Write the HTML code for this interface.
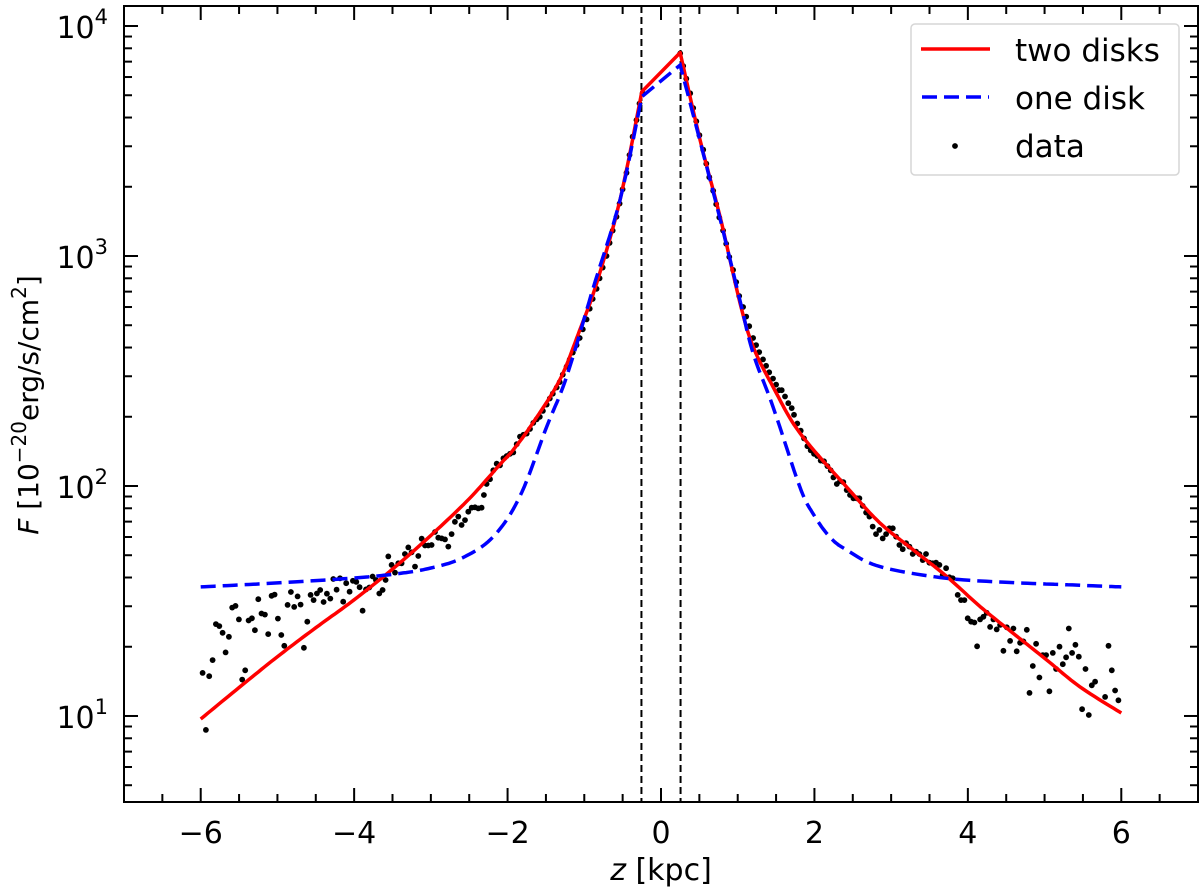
<!DOCTYPE html>
<html><head><meta charset="utf-8"><style>
html,body{margin:0;padding:0;background:#fff;}
svg{display:block;font-family:"DejaVu Sans","Liberation Sans",sans-serif;}
</style></head><body>
<svg id="chart" width="1200" height="890" viewBox="0 0 1200 890"></svg>
<script>
// ---- data ----
const redZ = [-6,-5.5,-5,-4.5,-4,-3.5,-3,-2.5,-2.1,-1.93,-1.67,-1.32,-1.06,-0.84,-0.535,-0.25,0.25,0.51,0.77,1.03,1.2,1.46,1.81,2.42,2.855,3.29,3.725,4.16,4.59,5.03,5.46,6];
const redF = [9.7,13.3,18.1,24.2,32,43.5,61,88,124,143,188,289,476,760,1750,5180,7660,3190,1480,625,404,270,170,99,69,52.7,40.4,29.9,22.9,17.5,13.4,10.3];
const blueZ = [-6,-5,-4,-3.4,-3,-2.6,-2.19,-1.84,-1.49,-1.23,-0.88,-0.535,-0.25,0.25,0.51,0.77,1.03,1.2,1.46,1.81,1.98,2.2,2.42,2.855,3.72,4.59,5.3,6];
const blueF = [36.4,37.9,39.8,41.7,44,48.5,60,90,181,299,733,1750,4930,6770,3150,1450,640,378,221,99,76,60,52.7,44.6,39.7,38,37.2,36.4];
const dataZ = [-5.976,-5.932,-5.889,-5.845,-5.802,-5.758,-5.715,-5.676,-5.633,-5.589,-5.546,-5.502,-5.459,-5.42,-5.376,-5.333,-5.294,-5.25,-5.207,-5.163,-5.12,-5.076,-5.037,-4.994,-4.95,-4.911,-4.868,-4.824,-4.781,-4.737,-4.698,-4.655,-4.611,-4.568,-4.529,-4.485,-4.442,-4.398,-4.355,-4.311,-4.272,-4.229,-4.185,-4.142,-4.103,-4.059,-4.016,-3.972,-3.929,-3.89,-3.846,-3.803,-3.759,-3.716,-3.672,-3.629,-3.59,
-3.555,-3.512,-3.468,-3.425,-3.381,-3.338,-3.294,-3.251,-3.207,-3.164,-3.12,-3.077,-3.033,-2.99,-2.946,-2.903,-2.859,-2.816,-2.773,-2.729,-2.686,-2.642,-2.599,-2.555,-2.512,-2.468,-2.425,-2.381,-2.338,-2.308,-2.273,-2.229,-2.186,-2.142,-2.099,-2.055,-2.012,-1.968,-1.925,-1.881,-1.838,-1.794,-1.751,-1.707,-1.664,-1.62,
-1.58,-1.54,-1.49,-1.45,-1.41,-1.36,-1.32,-1.28,-1.23,-1.19,-1.15,-1.10,-1.06,-1.02,-0.97,-0.93,-0.89,-0.84,-0.80,-0.76,-0.71,-0.67,-0.63,-0.58,-0.54,-0.50,-0.45,-0.41,-0.37,-0.32,-0.28,-0.24,
0.25,0.29,0.33,0.38,0.42,0.46,0.50,0.55,0.59,0.63,0.68,0.72,0.76,0.81,0.85,0.89,0.94,0.98,1.02,1.07,1.11,1.15,1.20,1.24,1.28,1.33,1.37,1.41,1.46,1.50,1.54,
1.573,1.617,1.66,1.704,1.734,1.777,1.821,1.864,1.908,1.951,1.995,2.038,2.082,2.125,2.169,2.212,2.247,2.291,2.334,2.377,2.421,2.464,2.508,2.551,2.586,2.629,2.673,2.716,2.76,2.803,2.847,2.89,2.934,2.977,3.021,3.064,3.108,3.151,3.195,3.238,3.281,3.325,3.368,3.412,3.455,3.499,3.542,3.585,3.629,3.672,3.716,3.759,3.803,3.868,3.911,3.955,3.998,4.042,4.085,4.12,4.159,4.203,4.246,4.29,4.333,4.376,4.42,4.463,4.507,4.55,4.594,4.637,4.681,4.724,4.768,4.803,4.846,4.89,4.933,4.977,5.02,5.063,5.107,5.15,5.194,5.237,5.281,5.316,5.359,5.402,5.446,5.489,5.533,5.576,5.615,5.659,5.789,5.833,5.876,5.92,5.963];
const dataF = [15.4,8.7,14.9,17.5,25.1,24.6,23,18.9,22.1,29.6,30.1,26.3,14.4,15.8,26,26.6,23.6,32.2,27.9,27.6,22.7,33.3,33.7,26.5,22.5,20.2,30.4,34.6,29.8,33.1,30.5,19.8,25.7,33.6,31.9,34.1,35.3,31.3,34,32.4,39.4,35.4,39.7,31.4,37.8,34.7,38.7,38.3,36.3,28.7,35.5,36.2,40.4,39,34.1,35.3,39,
49.4,45.4,42,46.1,46.1,50.6,54.1,51.5,44.6,49.6,59,55.1,55.1,55.4,63.1,59.6,59.2,58.6,54.5,61.8,69.9,73.6,67.7,71.1,77.3,80.5,80.8,79.9,80.5,91.4,102,107,117,125,123,132,135,138,140,152,164,167,169,177,188,195,
200,212,226,240,252,268,283,305,330,355,380,410,440,480,530,590,650,720,800,890,1000,1140,1290,1480,1690,1950,2300,2750,3300,3900,4600,5100,
7600,6700,5900,5100,4400,3850,3350,2900,2520,2200,1920,1680,1470,1290,1130,990,870,770,670,600,545,495,440,410,382,355,333,312,293,276,261,
261,245,229,218,204,187,174,161,149,143,138,135,129,128,122,117,109,102,105,104,96,91.4,88.4,88.4,88.4,81.9,76.6,73.6,66.6,61.8,64.4,59.2,61.8,65.5,65.5,60.2,55.4,53.1,56.4,54.5,50.6,51.8,50.6,47.6,50.6,46.4,46.1,46.4,45.4,41,43.9,40.1,39.7,33.6,31.9,31.9,26.6,25.7,25.5,20.1,26.3,27,28.1,24.4,26.3,23.8,24.9,19.2,24.3,21.2,24,19.1,20.8,21.1,23.7,12.6,16.5,20.6,14.7,18.4,18.4,12.8,18.8,16,20,16.8,18,24,18.8,20.4,18.1,10.7,16,10.1,13.6,14.1,12.1,20.2,15.8,12.9,11.7];
const xTicks = [-6,-4,-2,0,2,4,6];
const xTickLabels = ["\u22126","\u22124","\u22122","0","2","4","6"];
const yDecades = [1,2,3,4];
const vLines = [-0.255,0.255];

// ---- axes ----
const L=124,R=1198,T=6,B=802;
const xMin=-7,xMax=7,yMin=0.626,yMax=4.087;
const X=z=>L+(z-xMin)/(xMax-xMin)*(R-L);
const Y=f=>B-(Math.log10(f)-yMin)/(yMax-yMin)*(B-T);
const NS="http://www.w3.org/2000/svg";
const svg=document.getElementById('chart');
function mk(tag,attrs,parent){const e=document.createElementNS(NS,tag);for(const k in attrs)e.setAttribute(k,attrs[k]);(parent||svg).appendChild(e);return e;}

const defs=mk('defs',{});
const cp=mk('clipPath',{id:'clip'},defs);
mk('rect',{x:L,y:T,width:R-L,height:B-T},cp);
const plot=mk('g',{'clip-path':'url(#clip)'});



vLines.forEach((z,i)=>{
  const l=mk('line',{x1:X(z),x2:X(z),y1:T,y2:B,stroke:'#000','stroke-width':2,'stroke-dasharray':'7,4'},plot);
  
  
});

const dg=mk('g',{},plot);


for(let i=0;i<dataZ.length;i++){
  const c=mk('circle',{cx:X(dataZ[i]).toFixed(1),cy:Y(dataF[i]).toFixed(1),r:2.9,fill:'#000'},dg);
  
  
}
function smoothPath(zs,fs){
  const segs=[];let cur=[];
  for(let i=0;i<zs.length;i++){
    cur.push([zs[i],Math.log10(fs[i])]);
    if(Math.abs(Math.abs(zs[i])-0.25)<1e-6){segs.push(cur);cur=[[zs[i],Math.log10(fs[i])]];}
  }
  segs.push(cur);
  let pts=[];
  segs.forEach(s=>{
    if(s.length<3){s.forEach(p=>pts.push(p));return;}
    for(let i=0;i<s.length-1;i++){
      const p0=s[Math.max(0,i-1)],p1=s[i],p2=s[i+1],p3=s[Math.min(s.length-1,i+2)];
      const n=12;
      for(let k=0;k<n;k++){
        const t=k/n,t2=t*t,t3=t2*t;
        const f=(a,b,c,d)=>0.5*(2*b+(-a+c)*t+(2*a-5*b+4*c-d)*t2+(-a+3*b-3*c+d)*t3);
        pts.push([f(p0[0],p1[0],p2[0],p3[0]),f(p0[1],p1[1],p2[1],p3[1])]);
      }
    }
    pts.push(s[s.length-1]);
  });
  return pts.map((p,i)=>(i?'L':'M')+X(p[0]).toFixed(1)+','+Y(Math.pow(10,p[1])).toFixed(1)).join(' ');
}
const red=mk('path',{d:smoothPath(redZ,redF),fill:'none',stroke:'#ff0000','stroke-width':3.5,'stroke-linejoin':'round'},plot);


const blue=mk('path',{d:smoothPath(blueZ,blueF),fill:'none',stroke:'#0000ff','stroke-width':3.5,'stroke-dasharray':'15,7'},plot);



const fr=mk('rect',{x:L,y:T,width:R-L,height:B-T,fill:'none',stroke:'#000','stroke-width':2});



const xg=mk('g',{stroke:'#000','stroke-width':2});


for(let z=-6.5;z<=6.51;z+=0.5){
  const major=Math.abs(z-Math.round(z/2)*2)<1e-6;
  const len=major?14:8;
  mk('line',{x1:X(z),x2:X(z),y1:B,y2:B-len},xg);
  mk('line',{x1:X(z),x2:X(z),y1:T,y2:T+len},xg);
}
xTicks.forEach((z,i)=>{
  const t=mk('text',{x:X(z),y:843,'text-anchor':'middle','font-size':30,fill:'#000'});
  t.textContent=xTickLabels[i];
  
  
});
const yg=mk('g',{stroke:'#000','stroke-width':2});


for(let d=0;d<=4;d++){
  for(let m=1;m<=9;m++){
    const v=m*Math.pow(10,d);
    const lv=Math.log10(v);
    if(lv<yMin||lv>yMax)continue;
    const len=m===1?14:8;const y=Y(v);
    mk('line',{x1:L,x2:L+len,y1:y,y2:y},yg);
    mk('line',{x1:R,x2:R-len,y1:y,y2:y},yg);
  }
}
yDecades.forEach(d=>{
  const t=mk('text',{x:108,y:Y(Math.pow(10,d))+12,'text-anchor':'end','font-size':30,fill:'#000'});
  t.innerHTML='10<tspan dy="-14" font-size="21">'+d+'</tspan>';
  
  
});
const xt=mk('text',{x:661,y:880,'text-anchor':'middle','font-size':30,fill:'#000'});
xt.innerHTML='<tspan font-style="italic">z</tspan> [kpc]';


const yt=mk('text',{x:0,y:0,'text-anchor':'middle','font-size':28,fill:'#000',transform:'translate(38,405) rotate(-90)'});
yt.innerHTML='<tspan font-style="italic">F</tspan> [10<tspan dy="-12" font-size="20">\u221220</tspan><tspan dy="12">erg/s/cm</tspan><tspan dy="-12" font-size="20">2</tspan><tspan dy="12">]</tspan>';



const lg=mk('g',{});


mk('rect',{x:911,y:24,width:268,height:151,rx:4,fill:'#fff','fill-opacity':0.85,stroke:'#d6d6d6','stroke-width':1.5},lg);
const e1=mk('g',{},lg);


mk('line',{x1:921,x2:990,y1:49,y2:49,stroke:'#ff0000','stroke-width':3.5},e1);
mk('text',{x:1015,y:61,'font-size':31,fill:'#000'},e1).textContent='two disks';
const e2=mk('g',{},lg);


mk('line',{x1:922,x2:989,y1:97,y2:97,stroke:'#0000ff','stroke-width':3.5,'stroke-dasharray':'15,7'},e2);
mk('text',{x:1015,y:109,'font-size':31,fill:'#000'},e2).textContent='one disk';
const e3=mk('g',{},lg);


mk('circle',{cx:955,cy:146,r:2.9,fill:'#000'},e3);
mk('text',{x:1015,y:157,'font-size':31,fill:'#000'},e3).textContent='data';
</script>
</body></html>
